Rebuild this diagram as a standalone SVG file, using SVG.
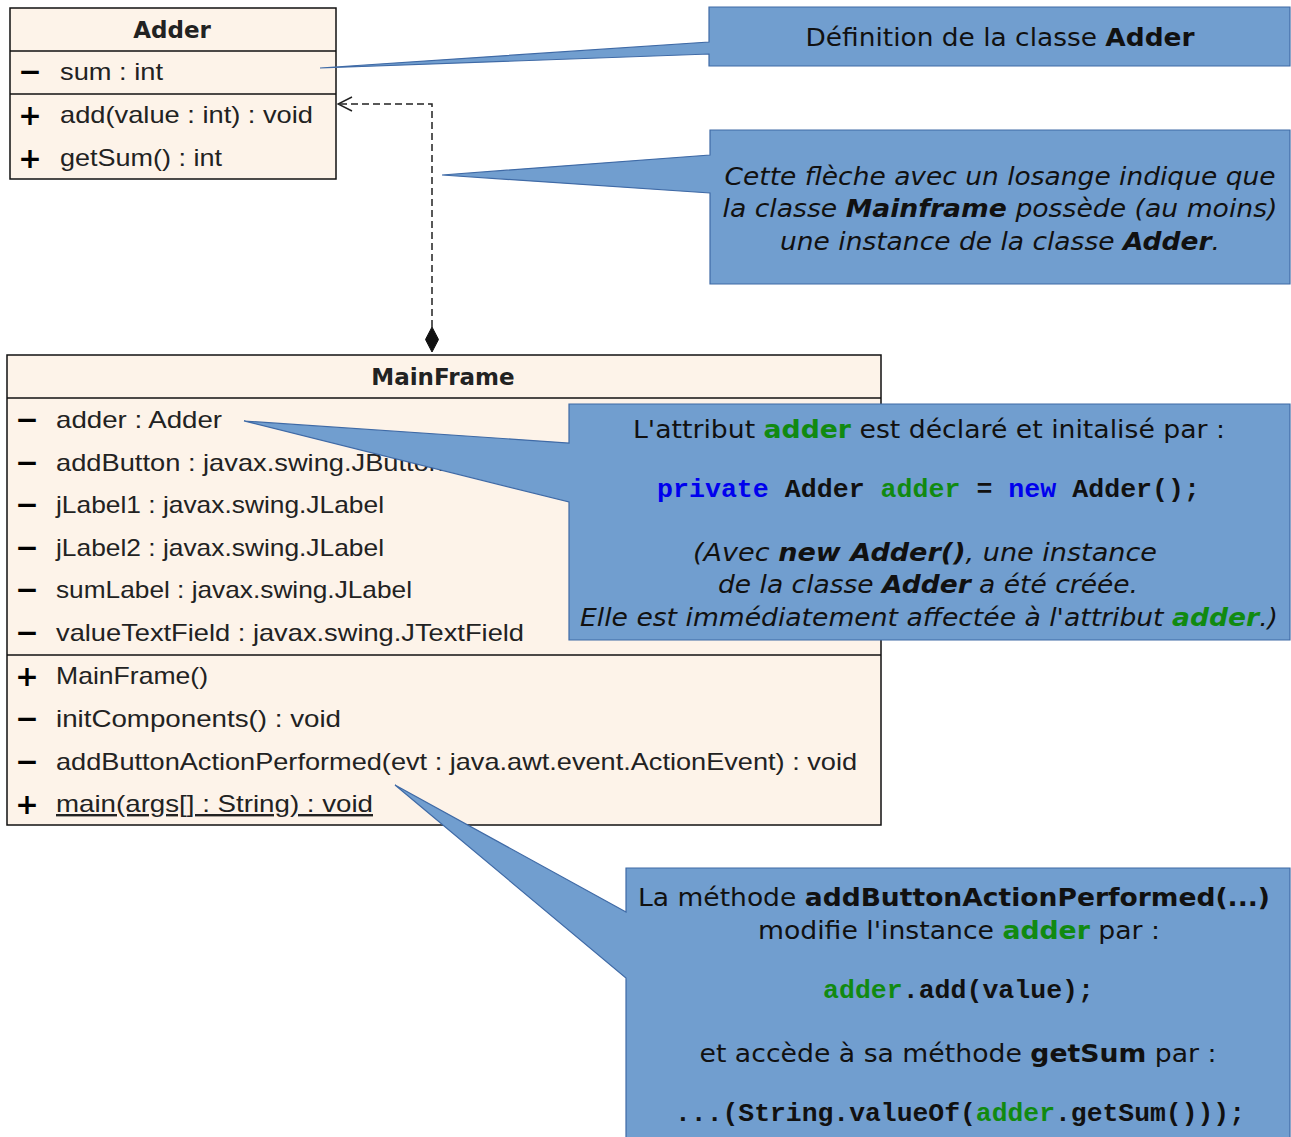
<svg xmlns="http://www.w3.org/2000/svg" width="1291" height="1137" viewBox="0 0 1291 1137">
<style>
.box{fill:#fdf3e9;stroke:#111;stroke-width:1.5}
.div{stroke:#111;stroke-width:1.5}
.uml{font-family:"Liberation Sans",Arial,sans-serif;font-size:24px;fill:#222}
.hdr{font-family:"DejaVu Sans",sans-serif;font-size:23px;font-weight:bold;fill:#222;text-anchor:middle}
.mk{font-family:"DejaVu Sans",sans-serif;font-size:28px;font-weight:bold;fill:#000;text-anchor:middle}
.call{fill:#719ecf;stroke:#3f6aa6;stroke-width:1.2}
.ct{font-family:"DejaVu Sans",Verdana,sans-serif;font-size:24px;fill:#111;text-anchor:middle}
.it{font-style:italic}
.b{font-weight:bold}
.code{font-family:"Liberation Mono","Courier New",monospace;font-size:26.5px;font-weight:bold;fill:#111}
.g{fill:#118a11}
.bl{fill:#0000ee}
.conn{fill:none;stroke:#222;stroke-width:1.5;stroke-dasharray:7,4}
</style>
<defs>
<marker id="open" markerWidth="16" markerHeight="16" refX="15" refY="8" orient="auto" markerUnits="userSpaceOnUse">
<path d="M1,1 L15,8 L1,15" fill="none" stroke="#222" stroke-width="1.5"/>
</marker>
</defs>

<g id="node-adder">
<rect class="box" x="10" y="8" width="326" height="171"/>
<line class="div" x1="10" y1="51" x2="336" y2="51"/>
<line class="div" x1="10" y1="94" x2="336" y2="94"/>
<text class="hdr" x="172" y="38">Adder</text>
<text class="mk" x="30" y="81">−</text>
<text class="uml" x="60" y="80" textLength="103" lengthAdjust="spacingAndGlyphs">sum : int</text>
<text class="mk" x="30" y="125">+</text>
<text class="uml" x="60" y="123" textLength="253" lengthAdjust="spacingAndGlyphs">add(value : int) : void</text>
<text class="mk" x="30" y="168">+</text>
<text class="uml" x="60" y="166" textLength="162" lengthAdjust="spacingAndGlyphs">getSum() : int</text>
</g>

<g id="node-mainframe">
<rect class="box" x="7" y="355" width="874" height="470"/>
<line class="div" x1="7" y1="398" x2="881" y2="398"/>
<line class="div" x1="7" y1="655" x2="881" y2="655"/>
<text class="hdr" x="443" y="385">MainFrame</text>
<text class="mk" x="27" y="429">−</text>
<text class="uml" x="56" y="428" textLength="166" lengthAdjust="spacingAndGlyphs">adder : Adder</text>
<text class="mk" x="27" y="472">−</text>
<text class="uml" x="56" y="471" textLength="388" lengthAdjust="spacingAndGlyphs">addButton : javax.swing.JButton</text>
<text class="mk" x="27" y="514">−</text>
<text class="uml" x="56" y="513" textLength="328" lengthAdjust="spacingAndGlyphs">jLabel1 : javax.swing.JLabel</text>
<text class="mk" x="27" y="557">−</text>
<text class="uml" x="56" y="556" textLength="328" lengthAdjust="spacingAndGlyphs">jLabel2 : javax.swing.JLabel</text>
<text class="mk" x="27" y="599">−</text>
<text class="uml" x="56" y="598" textLength="356" lengthAdjust="spacingAndGlyphs">sumLabel : javax.swing.JLabel</text>
<text class="mk" x="27" y="642">−</text>
<text class="uml" x="56" y="641" textLength="468" lengthAdjust="spacingAndGlyphs">valueTextField : javax.swing.JTextField</text>
<text class="mk" x="27" y="686">+</text>
<text class="uml" x="56" y="684" textLength="152" lengthAdjust="spacingAndGlyphs">MainFrame()</text>
<text class="mk" x="27" y="728">−</text>
<text class="uml" x="56" y="727" textLength="285" lengthAdjust="spacingAndGlyphs">initComponents() : void</text>
<text class="mk" x="27" y="771">−</text>
<text class="uml" x="56" y="770" textLength="801" lengthAdjust="spacingAndGlyphs">addButtonActionPerformed(evt : java.awt.event.ActionEvent) : void</text>
<text class="mk" x="27" y="814">+</text>
<text class="uml" x="56" y="812" textLength="317" lengthAdjust="spacingAndGlyphs" text-decoration="underline">main(args[] : String) : void</text>
</g>

<g id="connectors">
<path class="conn" d="M432,327 V104 H338" marker-end="url(#open)"/>
<path d="M432,327 L438.5,339.5 L432,352 L425.5,339.5 Z" fill="#111" stroke="#111" stroke-width="1"/>
</g>

<g id="note-adder">
<path class="call" d="M709,7 H1290 V66 H709 V54 L320,68 L709,42 Z"/>
<text class="ct" x="1000" y="46" textLength="389" lengthAdjust="spacingAndGlyphs">Définition de la classe <tspan class="b">Adder</tspan></text>
</g>

<g id="note-losange">
<path class="call" d="M710,130 H1290 V284 H710 V193 L442,175 L710,155 Z"/>
<text class="ct it" x="1000" y="185" textLength="551" lengthAdjust="spacingAndGlyphs">Cette flèche avec un losange indique que</text>
<text class="ct it" x="1000" y="217" textLength="555" lengthAdjust="spacingAndGlyphs">la classe <tspan class="b">Mainframe</tspan> possède (au moins)</text>
<text class="ct it" x="1000" y="250" textLength="440" lengthAdjust="spacingAndGlyphs">une instance de la classe <tspan class="b">Adder</tspan>.</text>
</g>

<g id="note-attribut">
<path class="call" d="M569,404 H1290 V640 H569 V502 L244,421 L569,443 Z"/>
<text class="ct" x="929" y="438" textLength="592" lengthAdjust="spacingAndGlyphs">L'attribut <tspan class="b g">adder</tspan> est déclaré et initalisé par :</text>
<text class="code" x="657" y="497" textLength="543" lengthAdjust="spacingAndGlyphs"><tspan class="bl">private</tspan> Adder <tspan class="g">adder</tspan> = <tspan class="bl">new</tspan> Adder();</text>
<text class="ct it" x="925" y="561" textLength="464" lengthAdjust="spacingAndGlyphs">(Avec <tspan class="b">new Adder()</tspan>, une instance</text>
<text class="ct it" x="928" y="593" textLength="420" lengthAdjust="spacingAndGlyphs">de la classe <tspan class="b">Adder</tspan> a été créée.</text>
<text class="ct it" x="929" y="626" textLength="698" lengthAdjust="spacingAndGlyphs">Elle est immédiatement affectée à l'attribut <tspan class="b g">adder</tspan>.)</text>
</g>

<g id="note-methode">
<path class="call" d="M626,868 H1290 V1140 H626 V978 L395,785 L626,912 Z"/>
<text class="ct" x="954" y="906" textLength="632" lengthAdjust="spacingAndGlyphs">La méthode <tspan class="b">addButtonActionPerformed(...)</tspan></text>
<text class="ct" x="959" y="939" textLength="402" lengthAdjust="spacingAndGlyphs">modifie l'instance <tspan class="b g">adder</tspan> par :</text>
<text class="code" x="823" y="998" textLength="271" lengthAdjust="spacingAndGlyphs"><tspan class="g">adder</tspan>.add(value);</text>
<text class="ct" x="958" y="1062" textLength="517" lengthAdjust="spacingAndGlyphs">et accède à sa méthode <tspan class="b">getSum</tspan> par :</text>
<text class="code" x="675" y="1121" textLength="570" lengthAdjust="spacingAndGlyphs">...(String.valueOf(<tspan class="g">adder</tspan>.getSum()));</text>
</g>
</svg>
